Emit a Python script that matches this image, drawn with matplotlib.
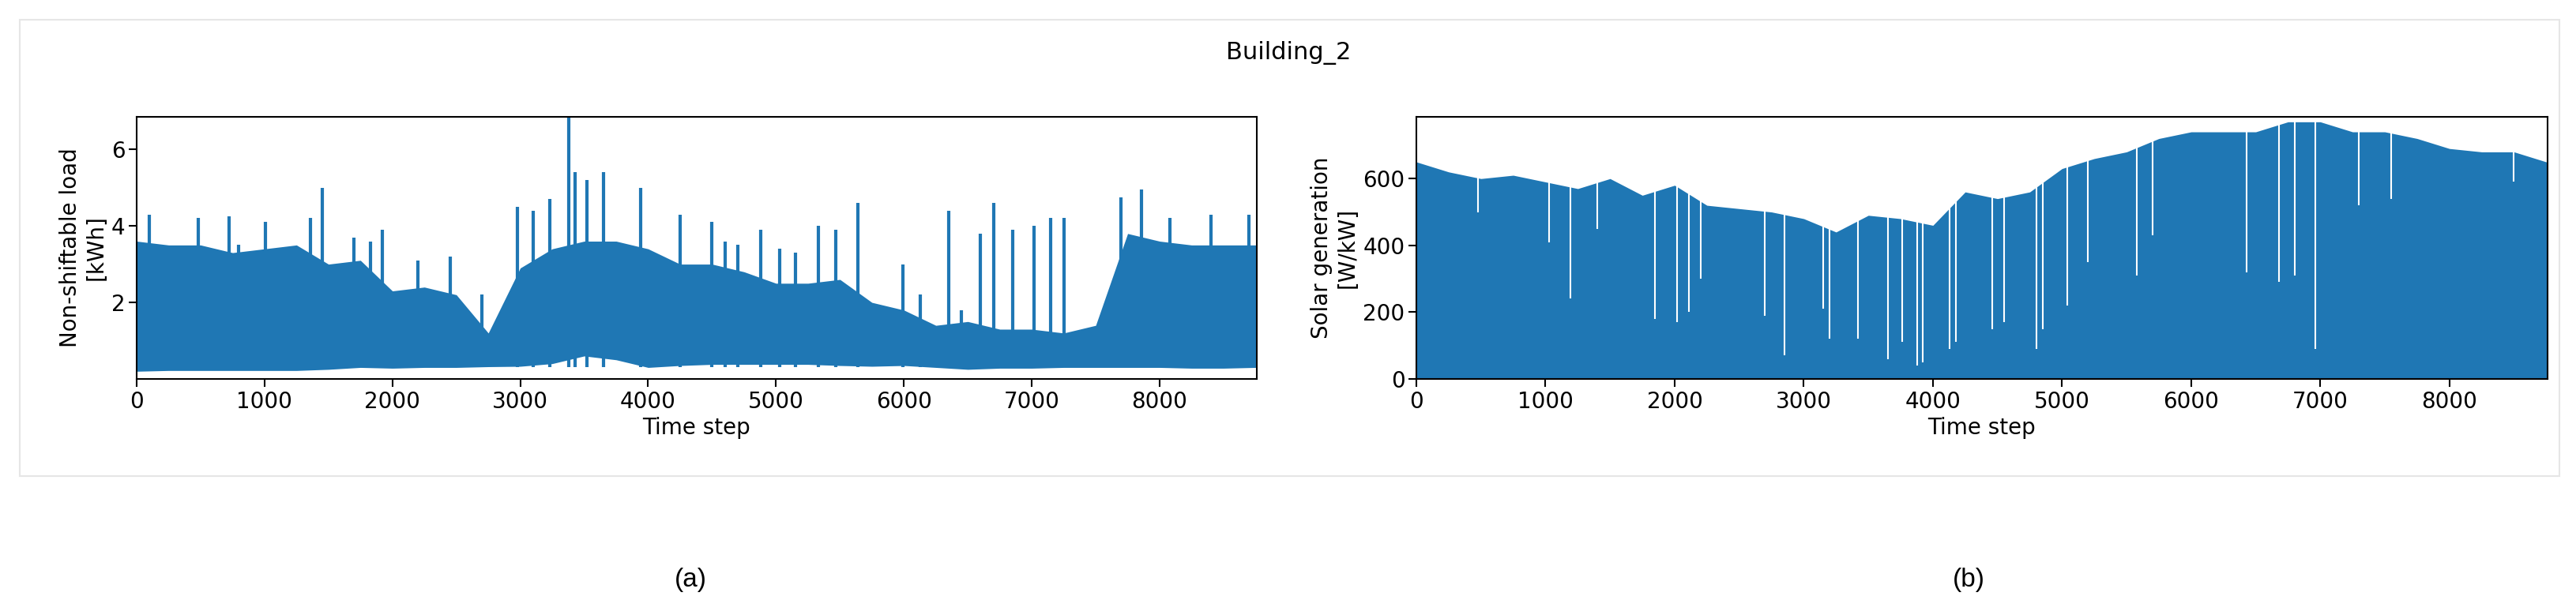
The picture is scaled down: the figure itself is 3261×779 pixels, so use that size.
import numpy as np
import matplotlib.pyplot as plt
from matplotlib.patches import Rectangle

# --- data (envelopes at 250-step resolution + spikes/dips) ---
steps = list(range(0, 8751, 250)) + [8759]

load_dense = [3.6, 3.5, 3.5, 3.3, 3.4, 3.5, 3.0, 3.1, 2.3, 2.4, 2.2, 1.2, 2.9, 3.4, 3.6,
              3.6, 3.4, 3.0, 3.0, 2.8, 2.5, 2.5, 2.6, 2.0, 1.8, 1.4, 1.5, 1.3, 1.3, 1.2,
              1.4, 3.8, 3.6, 3.5, 3.5, 3.5, 3.5]
load_min = [0.2, 0.22, 0.22, 0.22, 0.22, 0.22, 0.25, 0.3, 0.28, 0.3, 0.3, 0.32, 0.33, 0.4,
            0.6, 0.5, 0.3, 0.35, 0.38, 0.38, 0.38, 0.38, 0.35, 0.33, 0.35, 0.3, 0.25, 0.28,
            0.28, 0.3, 0.3, 0.3, 0.3, 0.28, 0.28, 0.3, 0.3]
load_spikes = [(100, 4.3), (480, 4.2), (720, 4.25), (800, 3.5), (1010, 4.1), (1360, 4.2),
               (1450, 5.0), (1700, 3.7), (1830, 3.6), (1920, 3.9), (2200, 3.1), (2450, 3.2),
               (2700, 2.2), (2980, 4.5), (3100, 4.4), (3230, 4.7), (3380, 6.85), (3430, 5.4),
               (3520, 5.2), (3650, 5.4), (3940, 5.0), (4250, 4.3), (4500, 4.1), (4600, 3.6),
               (4700, 3.5), (4880, 3.9), (5030, 3.4), (5150, 3.3), (5330, 4.0), (5470, 3.9),
               (5640, 4.6), (5990, 3.0), (6130, 2.2), (6350, 4.4), (6450, 1.8), (6600, 3.8),
               (6700, 4.6), (6850, 3.9), (7020, 4.0), (7150, 4.2), (7250, 4.2), (7700, 4.75),
               (7860, 4.95), (8080, 4.2), (8400, 4.3), (8700, 4.3)]

solar_top = [650, 620, 600, 610, 590, 570, 600, 550, 580, 520, 510, 500, 480, 440, 490,
             480, 460, 560, 540, 560, 630, 660, 680, 720, 740, 740, 740, 770, 770, 740,
             740, 720, 690, 680, 680, 650, 650]
solar_dips = [(480, 500), (1030, 410), (1190, 240), (1400, 450), (1850, 180), (2020, 170),
              (2110, 200), (2200, 300), (2700, 190), (2850, 70), (3150, 210), (3200, 120),
              (3420, 120), (3650, 60), (3760, 110), (3880, 40), (3920, 50), (4130, 90),
              (4180, 110), (4460, 150), (4550, 170), (4800, 90), (4850, 150), (5040, 220),
              (5200, 350), (5580, 310), (5700, 430), (6430, 320), (6680, 290), (6800, 310),
              (6960, 90), (7300, 520), (7550, 540), (8500, 590)]

blue = '#1f77b4'
fs = 20

fig = plt.figure(figsize=(32.62, 7.79), dpi=100)
fig.patches.append(Rectangle((25 / 3262, 1 - 603 / 779), 3215 / 3262, 578 / 779,
                             transform=fig.transFigure, fill=False, ec='#e6e6e6', lw=1.5))

ax1 = fig.add_axes([173 / 3262, 1 - 480 / 779, 1418 / 3262, 332 / 779])
ax2 = fig.add_axes([1793 / 3262, 1 - 480 / 779, 1432 / 3262, 332 / 779])

ax1.fill_between(steps, load_min, load_dense, color=blue, lw=0)
sx, sy = zip(*load_spikes)
ax1.vlines(sx, 0.3, sy, color=blue, lw=3)
ax1.set_xlim(0, 8760)
ax1.set_ylim(0, 6.85)
ax1.set_yticks([2, 4, 6])
ax1.set_ylabel('Non-shiftable load\n[kWh]', fontsize=fs)

ax2.fill_between(steps, 0, solar_top, color=blue, lw=0)
dx, dy = zip(*solar_dips)
ax2.vlines(dx, dy, 790, color='white', lw=1.5)
ax2.set_xlim(0, 8760)
ax2.set_ylim(0, 785)
ax2.set_yticks([0, 200, 400, 600])
ax2.set_ylabel('Solar generation\n[W/kW]', fontsize=fs)

for ax in (ax1, ax2):
    ax.set_xticks(range(0, 8001, 1000))
    ax.set_xlabel('Time step', fontsize=fs)
    ax.tick_params(labelsize=fs, length=7, width=1.5)
    for s in ax.spines.values():
        s.set_linewidth(1.5)

fig.text(0.5, 1 - 67 / 779, 'Building_2', ha='center', va='center', fontsize=22)
fig.text(874 / 3262, 1 - 734 / 779, '(a)', ha='center', va='center', fontsize=24,
         family='Liberation Sans')
fig.text(2492 / 3262, 1 - 734 / 779, '(b)', ha='center', va='center', fontsize=24,
         family='Liberation Sans')

plt.savefig('out.png', dpi=100)
